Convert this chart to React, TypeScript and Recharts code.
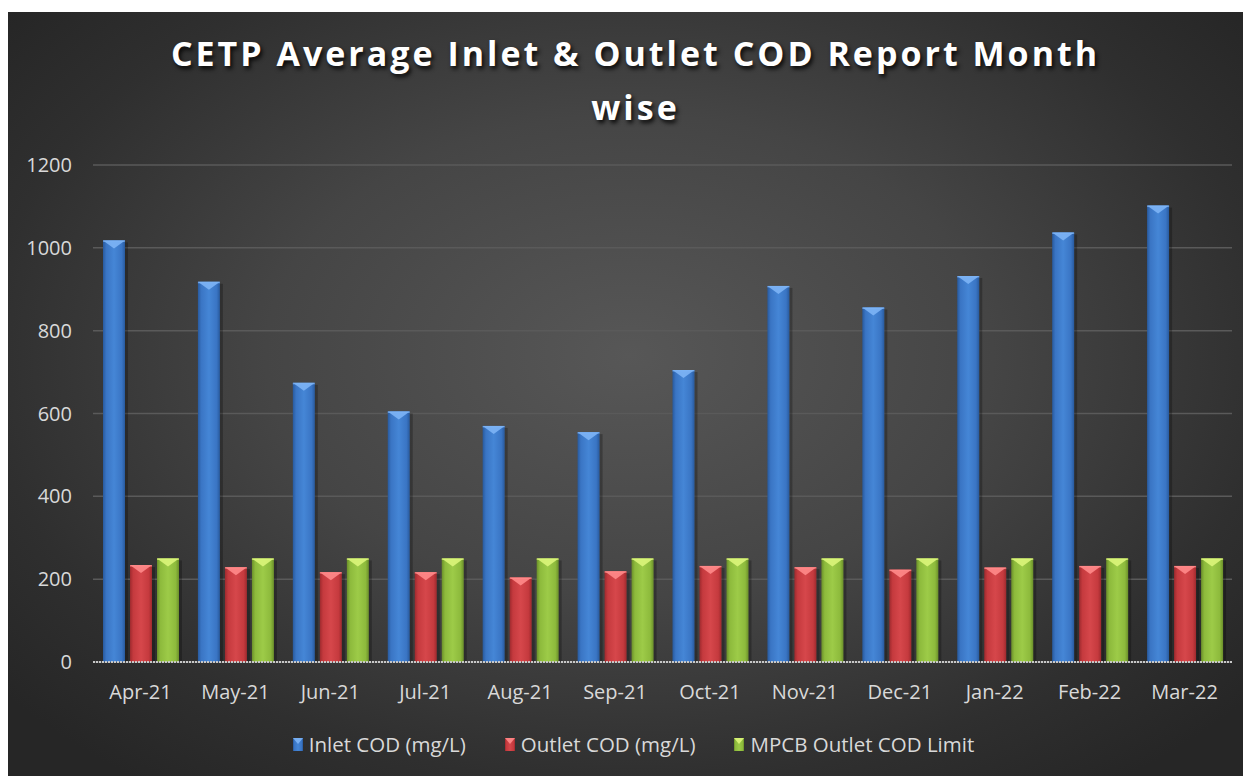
import React from 'react';
import { BarChart, Bar, XAxis, YAxis, CartesianGrid } from 'recharts';

const months = ['Apr-21', 'May-21', 'Jun-21', 'Jul-21', 'Aug-21', 'Sep-21', 'Oct-21', 'Nov-21', 'Dec-21', 'Jan-22', 'Feb-22', 'Mar-22'];
const inletCod = [1018, 918, 674, 605, 570, 555, 705, 908, 856, 932, 1037, 1102];
const outletCod = [234, 229, 217, 217, 204, 219, 232, 229, 223, 228, 232, 232];
const mpcbLimit = [250, 250, 250, 250, 250, 250, 250, 250, 250, 250, 250, 250];
const yTicks = [0, 200, 400, 600, 800, 1000, 1200];

const seriesNames = ['Inlet COD (mg/L)', 'Outlet COD (mg/L)', 'MPCB Outlet COD Limit'];

const data = months.map((m, i) => ({
  month: m,
  inlet: inletCod[i],
  outlet: outletCod[i],
  limit: mpcbLimit[i],
}));

// colours per series: dark edge, body, light centre, bevel
const palette = {
  blue: { edge: '#285a9e', body: '#3a75c4', light: '#4586d6', bevel: '#7db4f5' },
  red: { edge: '#9e2a2e', body: '#c53a3e', light: '#d6474b', bevel: '#ff8a8a' },
  green: { edge: '#6b8f2a', body: '#8dba3c', light: '#9dcb48', bevel: '#dcf57a' },
};

const Gradients = () => (
  <svg width={0} height={0} style={{ position: 'absolute' }}>
    <defs>
      {Object.entries(palette).map(([k, c]) => (
        <linearGradient key={k} id={`g-${k}`} x1="0" y1="0" x2="1" y2="0">
          <stop offset="0%" stopColor={c.edge} />
          <stop offset="15%" stopColor={c.body} />
          <stop offset="50%" stopColor={c.light} />
          <stop offset="85%" stopColor={c.body} />
          <stop offset="100%" stopColor={c.edge} />
        </linearGradient>
      ))}
    </defs>
  </svg>
);

const bevelBar = (key: keyof typeof palette) => (props: any) => {
  const { x, y, width, height } = props;
  if (!height || height <= 0) return <g />;
  const c = palette[key];
  const t = Math.min(8, height / 2);
  return (
    <g>
      <rect x={x + width} y={y + 2} width={3} height={height - 2} fill="#000" opacity={0.25} />
      <rect x={x} y={y} width={width} height={height} fill={`url(#g-${key})`} />
      <polygon points={`${x},${y} ${x + width},${y} ${x + width / 2},${y + t}`} fill={c.bevel} opacity={0.9} />
      <rect x={x} y={y} width={width} height={1.5} fill={c.bevel} opacity={0.7} />
    </g>
  );
};

const legendKeys: (keyof typeof palette)[] = ['blue', 'red', 'green'];

const LegendIcon = ({ k }: { k: keyof typeof palette }) => {
  const c = palette[k];
  return (
    <svg width={10} height={13} style={{ marginRight: 6 }}>
      <rect x={0} y={0} width={10} height={13} fill={`url(#g-${k})`} />
      <polygon points="0,0 10,0 5,6" fill={c.bevel} opacity={0.9} />
    </svg>
  );
};

export default function App() {
  return (
    <div
      style={{
        position: 'relative',
        width: 1243,
        height: 764,
        marginTop: 4,
        background: 'radial-gradient(ellipse 65% 70% at 50% 45%, #575757 0%, #454545 45%, #2f2f2f 80%, #262626 100%)',
        fontFamily: '"Open Sans", sans-serif',
        overflow: 'hidden',
      }}
    >
      <Gradients />
      <div
        style={{
          position: 'absolute',
          top: 14,
          left: 12,
          width: 1231,
          textAlign: 'center',
          color: '#ffffff',
          fontWeight: 700,
          fontSize: 34,
          lineHeight: '54px',
          letterSpacing: 3,
          textShadow: '2px 3px 4px rgba(0,0,0,0.85)',
        }}
      >
        CETP Average Inlet &amp; Outlet COD Report Month
        <br />
        wise
      </div>
      <div style={{ position: 'absolute', top: 0, left: 0 }}>
        <BarChart
          width={1243}
          height={764}
          data={data}
          margin={{ top: 153, right: 19, bottom: 84, left: 0 }}
          barCategoryGap={10}
          barGap={5}
        >
          <CartesianGrid vertical={false} stroke="#5a5a5a" strokeWidth={1.5} />
          <XAxis
            dataKey="month"
            height={30}
            tickLine={false}
            tickSize={0}
            tickMargin={23}
            axisLine={{ stroke: '#c8c8c8', strokeWidth: 2, strokeDasharray: '2 1' }}
            tick={{ fill: '#d9d9d9', fontSize: 20, fontFamily: '"Open Sans", sans-serif' }}
            interval={0}
          />
          <YAxis
            width={85}
            domain={[0, 1200]}
            ticks={yTicks}
            axisLine={false}
            tickLine={false}
            tickSize={0}
            tickMargin={21}
            tick={{ fill: '#d9d9d9', fontSize: 20, fontFamily: '"Open Sans", sans-serif' }}
          />
          <Bar dataKey="inlet" name={seriesNames[0]} shape={bevelBar('blue')} isAnimationActive={false} />
          <Bar dataKey="outlet" name={seriesNames[1]} shape={bevelBar('red')} isAnimationActive={false} />
          <Bar dataKey="limit" name={seriesNames[2]} shape={bevelBar('green')} isAnimationActive={false} />
        </BarChart>
      </div>
      <div
        style={{
          position: 'absolute',
          top: 718,
          left: 8,
          width: 1235,
          display: 'flex',
          justifyContent: 'center',
          alignItems: 'center',
          color: '#d9d9d9',
          fontSize: 20.5,
          gap: 39,
        }}
      >
        {seriesNames.map((n, i) => (
          <div key={n} style={{ display: 'flex', alignItems: 'center' }}>
            <LegendIcon k={legendKeys[i]} />
            <span>{n}</span>
          </div>
        ))}
      </div>
    </div>
  );
}
